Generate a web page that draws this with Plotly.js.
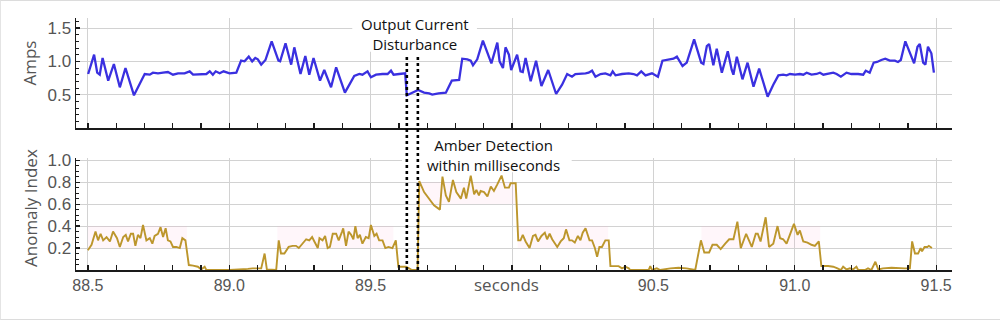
<!DOCTYPE html>
<html>
<head>
<meta charset="utf-8">
<script src="https://cdn.plot.ly/plotly-3.0.1.min.js"></script>
<style>
html,body{margin:0;padding:0;background:#fff;}
#wrap{position:relative;width:1000px;height:320px;}
#chart{width:1000px;height:320px;}
#frame{position:absolute;left:0;top:0;width:1000px;height:320px;box-sizing:border-box;border-top:1px solid #dcdcdc;border-bottom:1px solid #dcdcdc;border-left:1px solid #e4e4e4;pointer-events:none;}
</style>
</head>
<body>
<div id="wrap"><div id="chart"></div><div id="frame"></div></div>
<script>
// ---- Output current (Amps) ----
const ampsTime = [88.501,88.522,88.533,88.542,88.552,88.572,88.592,88.613,88.633,88.663,88.701,88.719,88.730,88.748,88.766,88.783,88.801,88.819,88.842,88.860,88.872,88.895,88.919,88.931,88.942,88.952,88.966,88.980,89.001,89.025,89.042,89.054,89.069,89.081,89.092,89.101,89.113,89.128,89.150,89.174,89.180,89.199,89.219,89.230,89.252,89.269,89.283,89.298,89.321,89.336,89.360,89.378,89.409,89.442,89.460,89.471,89.489,89.501,89.519,89.542,89.560,89.572,89.581,89.601,89.622,89.628,89.648,89.668,89.689,89.707,89.718,89.740,89.766,89.787,89.813,89.824,89.842,89.854,89.862,89.877,89.897,89.927,89.948,89.956,89.968,89.977,89.989,89.997,90.018,90.030,90.038,90.048,90.066,90.085,90.104,90.128,90.156,90.177,90.195,90.212,90.224,90.242,90.260,90.271,90.283,90.295,90.313,90.330,90.348,90.356,90.366,90.389,90.413,90.430,90.442,90.457,90.472,90.495,90.516,90.532,90.554,90.571,90.583,90.603,90.618,90.644,90.669,90.677,90.689,90.697,90.712,90.724,90.742,90.763,90.777,90.783,90.795,90.815,90.833,90.854,90.874,90.904,90.924,90.942,90.959,90.971,90.983,91.001,91.018,91.030,91.042,91.059,91.077,91.089,91.101,91.118,91.136,91.148,91.163,91.183,91.200,91.224,91.242,91.251,91.265,91.279,91.291,91.306,91.320,91.336,91.354,91.365,91.375,91.391,91.407,91.422,91.434,91.442,91.454,91.462,91.471,91.483,91.492];
const ampsValue = [0.81,1.10,0.83,0.80,1.05,0.71,0.96,0.61,0.90,0.49,0.81,0.80,0.83,0.82,0.83,0.84,0.80,0.82,0.82,0.85,0.80,0.81,0.81,0.85,0.80,0.85,0.82,0.85,0.82,0.83,1.01,1.00,1.07,1.00,1.05,1.03,0.95,1.02,1.30,1.01,1.00,1.27,0.95,1.21,0.81,1.08,0.80,1.05,0.71,0.87,0.61,0.91,0.53,0.78,0.81,0.80,0.85,0.76,0.80,0.81,0.81,0.86,0.80,0.81,0.82,0.49,0.53,0.57,0.53,0.52,0.50,0.52,0.53,0.71,0.72,1.04,1.03,1.01,0.94,1.03,1.31,0.97,1.28,1.00,0.90,1.21,1.10,0.87,1.10,0.85,0.84,1.05,0.70,1.01,0.63,0.87,0.51,0.65,0.81,0.77,0.81,0.81,0.82,0.83,0.86,0.77,0.81,0.82,0.79,0.85,0.79,0.81,0.82,0.81,0.79,0.85,0.79,0.82,0.77,1.01,1.03,1.04,1.07,0.93,0.98,1.33,0.98,0.96,1.23,1.26,0.94,1.19,0.83,1.15,0.87,0.80,1.07,0.73,0.98,0.62,0.89,0.47,0.65,0.79,0.80,0.79,0.81,0.80,0.81,0.80,0.83,0.80,0.81,0.83,0.80,0.81,0.83,0.81,0.77,0.83,0.81,0.81,0.80,0.86,0.83,0.98,0.99,1.02,1.04,1.01,1.01,0.99,1.02,1.30,1.12,0.97,1.22,1.26,0.98,0.95,1.22,1.12,0.83];

// ---- Anomaly index ----
const anomTime = [88.500,88.513,88.527,88.536,88.545,88.554,88.566,88.578,88.589,88.603,88.613,88.625,88.634,88.642,88.652,88.660,88.668,88.677,88.686,88.695,88.707,88.719,88.728,88.736,88.748,88.757,88.766,88.775,88.783,88.792,88.801,88.813,88.825,88.834,88.845,88.857,88.872,88.889,88.901,88.913,88.919,89.001,89.066,89.083,89.113,89.125,89.133,89.148,89.166,89.175,89.183,89.195,89.210,89.224,89.236,89.246,89.258,89.272,89.283,89.293,89.301,89.313,89.319,89.330,89.339,89.348,89.356,89.366,89.378,89.387,89.399,89.403,89.413,89.422,89.431,89.439,89.446,89.454,89.462,89.471,89.483,89.493,89.501,89.513,89.521,89.530,89.542,89.552,89.563,89.577,89.589,89.598,89.613,89.625,89.636,89.646,89.666,89.672,89.689,89.707,89.724,89.745,89.754,89.766,89.777,89.791,89.803,89.819,89.830,89.838,89.854,89.866,89.874,89.883,89.889,89.901,89.913,89.925,89.936,89.948,89.963,89.975,89.989,89.995,90.013,90.022,90.030,90.038,90.048,90.062,90.074,90.083,90.092,90.104,90.116,90.124,90.133,90.142,90.160,90.172,90.183,90.191,90.203,90.212,90.222,90.233,90.242,90.250,90.260,90.274,90.283,90.293,90.301,90.309,90.318,90.330,90.342,90.348,90.360,90.377,90.389,90.401,90.413,90.418,90.448,90.483,90.489,90.495,90.512,90.524,90.560,90.589,90.617,90.648,90.668,90.680,90.697,90.709,90.724,90.738,90.754,90.768,90.783,90.797,90.809,90.828,90.848,90.862,90.869,90.879,90.897,90.909,90.924,90.939,90.948,90.959,90.971,90.983,90.997,91.010,91.018,91.030,91.045,91.059,91.071,91.085,91.094,91.118,91.136,91.151,91.163,91.171,91.183,91.195,91.206,91.218,91.224,91.248,91.259,91.271,91.285,91.295,91.312,91.342,91.365,91.389,91.407,91.415,91.425,91.436,91.445,91.450,91.459,91.469,91.474,91.485];
const anomValue = [0.18,0.23,0.35,0.27,0.33,0.27,0.30,0.26,0.35,0.29,0.21,0.30,0.32,0.26,0.33,0.33,0.22,0.32,0.29,0.41,0.27,0.29,0.24,0.31,0.33,0.39,0.30,0.38,0.27,0.26,0.21,0.21,0.20,0.29,0.27,0.045,0.04,0.03,0.005,0.03,0.0,0.0,0.01,0.015,0.015,0.15,0.005,0.0,0.0,0.27,0.15,0.15,0.21,0.22,0.22,0.20,0.24,0.28,0.27,0.30,0.26,0.20,0.29,0.27,0.31,0.20,0.21,0.33,0.33,0.27,0.35,0.38,0.22,0.35,0.32,0.28,0.40,0.29,0.32,0.24,0.30,0.29,0.41,0.31,0.33,0.27,0.27,0.20,0.21,0.20,0.27,0.03,0.03,0.03,0.015,0.0,0.0,0.81,0.71,0.65,0.59,0.55,0.85,0.68,0.62,0.82,0.71,0.65,0.75,0.65,0.86,0.69,0.73,0.68,0.72,0.71,0.67,0.76,0.72,0.78,0.86,0.75,0.75,0.79,0.79,0.27,0.27,0.32,0.26,0.20,0.31,0.32,0.26,0.31,0.34,0.28,0.33,0.28,0.21,0.26,0.29,0.37,0.27,0.27,0.25,0.31,0.27,0.34,0.38,0.27,0.27,0.20,0.12,0.21,0.21,0.27,0.27,0.035,0.035,0.035,0.015,0.03,0.015,0.0,0.0,0.0,0.036,0.0,0.015,0.0,0.015,0.02,0.015,0.0,0.27,0.16,0.16,0.23,0.23,0.19,0.24,0.28,0.28,0.44,0.20,0.33,0.21,0.33,0.33,0.26,0.48,0.21,0.24,0.40,0.29,0.28,0.24,0.33,0.42,0.32,0.36,0.26,0.25,0.23,0.22,0.26,0.036,0.036,0.03,0.015,0.0,0.03,0.005,0.015,0.005,0.03,0.0,0.0,0.015,0.0,0.075,0.005,0.015,0.02,0.015,0.015,0.015,0.26,0.15,0.15,0.20,0.17,0.21,0.21,0.22,0.20];

// ---- faint expected-range bands ----
const bandStart = [88.50, 89.17, 89.67, 90.02, 90.67];
const bandEnd   = [88.85, 89.58, 90.01, 90.34, 91.09];
const bandLow   = [0.20, 0.20, 0.60, 0.20, 0.20];
const bandHigh  = [0.40, 0.40, 0.80, 0.40, 0.40];

// ---- event markers ----
const eventTimes = [89.628, 89.667];

const xTicks = [88.5, 89.0, 89.5, 90.0, 90.5, 91.0, 91.5];
const xTickText = ['88.5', '89.0', '89.5', '', '90.5', '91.0', '91.5'];
const ampsTicks = [0.5, 1.0, 1.5];
const anomTicks = [0.2, 0.4, 0.6, 0.8, 1.0];

const traces = [];
for (let i = 0; i < bandStart.length; i++) {
  traces.push({
    x: [bandStart[i], bandEnd[i], bandEnd[i], bandStart[i], bandStart[i]],
    y: [bandLow[i], bandLow[i], bandHigh[i], bandHigh[i], bandLow[i]],
    xaxis: 'x2', yaxis: 'y2', type: 'scatter', mode: 'lines',
    fill: 'toself', fillcolor: 'rgba(255,150,200,0.09)',
    line: {width: 0}, hoverinfo: 'skip', showlegend: false
  });
}
traces.push({
  x: ampsTime, y: ampsValue, type: 'scatter', mode: 'lines',
  line: {color: '#3a30e0', width: 2.3}, xaxis: 'x', yaxis: 'y', showlegend: false
});
traces.push({
  x: anomTime, y: anomValue, type: 'scatter', mode: 'lines',
  line: {color: '#bc962c', width: 1.9}, xaxis: 'x2', yaxis: 'y2', showlegend: false
});

const xTickFont = {family: 'Liberation Sans, Arial, sans-serif', size: 16, color: '#555'};
const yTickFont = {family: 'Liberation Sans, Arial, sans-serif', size: 17, color: '#555'};
const xCommon = {
  range: [88.458, 91.556], tickmode: 'array', tickvals: xTicks, ticktext: xTickText,
  showgrid: true, gridcolor: '#d2d2d2', gridwidth: 1, zeroline: false,
  showline: true, linecolor: '#1a1a1a', linewidth: 2,
  ticks: 'inside', ticklen: 5, tickwidth: 1.3, tickcolor: '#1a1a1a',
  minor: {dtick: 0.1, tick0: 88.5, ticks: 'inside', ticklen: 5, tickwidth: 1.3, tickcolor: '#1a1a1a', showgrid: false},
  tickfont: xTickFont, fixedrange: true
};
const yCommon = {
  tickmode: 'array', tickformat: '.1f',
  showgrid: true, gridcolor: '#d2d2d2', gridwidth: 1, zeroline: false,
  showline: true, linecolor: '#1a1a1a', linewidth: 1.5,
  ticks: 'inside', ticklen: 4, tickwidth: 1.2, tickcolor: '#1a1a1a',
  tickfont: yTickFont, fixedrange: true
};

const layout = {
  width: 1000, height: 320,
  margin: {l: 76, r: 48, t: 18, b: 50},
  paper_bgcolor: '#fff', plot_bgcolor: '#fff',
  showlegend: false,
  xaxis: Object.assign({}, xCommon, {anchor: 'y', showticklabels: false, domain: [0, 1]}),
  xaxis2: Object.assign({}, xCommon, {anchor: 'y2', matches: 'x', showticklabels: true, domain: [0, 1]}),
  yaxis: Object.assign({}, yCommon, {domain: [0.5635, 1], range: [0, 1.65], tickvals: ampsTicks,
    minor: {dtick: 0.1, tick0: 0, ticks: 'inside', ticklen: 2.5, tickwidth: 1, tickcolor: '#1a1a1a', showgrid: false}}),
  yaxis2: Object.assign({}, yCommon, {domain: [0, 0.4444], range: [0, 1.02], tickvals: anomTicks,
    minor: {dtick: 0.05, tick0: 0, ticks: 'inside', ticklen: 2.5, tickwidth: 1, tickcolor: '#1a1a1a', showgrid: false}}),
  shapes: [
    {type: 'rect', layer: 'between', xref: 'x', yref: 'y', x0: 89.435, x1: 89.876, y0: 1.144, y1: 1.7,
     fillcolor: '#fff', line: {width: 0}},
    {type: 'rect', layer: 'between', xref: 'x2', yref: 'y2', x0: 89.611, x1: 90.211, y0: 0.891, y1: 1.1,
     fillcolor: '#fff', line: {width: 0}}
  ].concat(eventTimes.map(t => ({
    type: 'line', layer: 'above', xref: 'x', yref: 'paper', x0: t, x1: t, y0: 0, y1: 0.853,
    line: {color: '#000', width: 2.6, dash: 'dot'}
  }))),
  annotations: [
    {text: 'Output Current<br>Disturbance', xref: 'paper', yref: 'paper', x: 0.387, y: 0.9365,
     xanchor: 'center', yanchor: 'middle', showarrow: false,
     font: {family: 'Open Sans, sans-serif', size: 15, color: '#111'}},
    {text: 'Amber Detection<br>within milliseconds', xref: 'paper', yref: 'paper', x: 0.477, y: 0.4544,
     xanchor: 'center', yanchor: 'middle', showarrow: false,
     font: {family: 'Open Sans, sans-serif', size: 15, color: '#111'}},
    {text: 'seconds', xref: 'paper', yref: 'paper', x: 0.492, y: -0.0595,
     xanchor: 'center', yanchor: 'middle', showarrow: false,
     font: {family: 'Open Sans, sans-serif', size: 17, color: '#555'}},
    {text: 'Amps', xref: 'paper', yref: 'paper', x: -0.0525, y: 0.8194, textangle: -90,
     xanchor: 'center', yanchor: 'middle', showarrow: false,
     font: {family: 'Open Sans, sans-serif', size: 17, color: '#555'}},
    {text: 'Anomaly Index', xref: 'paper', yref: 'paper', x: -0.0525, y: 0.246, textangle: -90,
     xanchor: 'center', yanchor: 'middle', showarrow: false,
     font: {family: 'Open Sans, sans-serif', size: 17, color: '#555'}}
  ]
};

Plotly.newPlot('chart', traces, layout, {displayModeBar: false, staticPlot: true});
</script>
</body>
</html>
